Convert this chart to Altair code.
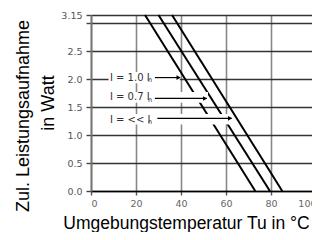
import altair as alt
import pandas as pd

# ---- data ----
curves = ["I = 1.0 In", "I = 0.7 In", "I = << In"]
temp_start = [24.0, 30.0, 36.0]     # °C at 3.15 W
temp_end = [73.0, 79.5, 85.0]       # °C at 0 W
power_top = 3.15
power_bottom = 0.0

label_main = ["I = 1.0 I", "I = 0.7 I", "I = << I"]
label_sub = ["n", "n", "n"]
label_x = [8.4, 8.4, 8.4]
label_y = [1.975, 1.625, 1.22]
sub_x = [25.3, 25.3, 25.3]
sub_y = [1.95, 1.60, 1.195]
arrow_x0 = [28.4, 28.4, 29.5]
arrow_x1 = [39.6, 51.4, 62.5]
arrow_y = [2.03, 1.656, 1.30]
head_x = [38.9, 50.7, 61.8]
box_x0 = [7.8, 7.8, 7.8]
box_x1 = [39.5, 52.0, 63.0]
box_y0 = [1.93, 1.58, 1.19]
box_y1 = [2.13, 1.77, 1.38]

x_ticks = [0, 20, 40, 60, 80, 100]
y_ticks = [0, 0.5, 1.0, 1.5, 2.0, 2.5, 3.0, 3.15]

chart_title = "6.3 x 32 mm (1-polig)"
x_title = "Umgebungstemperatur Tu in °C"
y_title_1 = "Zul. Leistungsaufnahme"
y_title_2 = "in Watt"

# ---- tables ----
rows = []
for c, t0, t1 in zip(curves, temp_start, temp_end):
    rows.append({"curve": c, "T": t0, "P": power_top})
    rows.append({"curve": c, "T": t1, "P": power_bottom})
lines_df = pd.DataFrame(rows)

ann_df = pd.DataFrame({
    "curve": curves, "main": label_main, "sub": label_sub,
    "lx": label_x, "ly": label_y, "sx": sub_x, "sy": sub_y,
    "ax0": arrow_x0, "ax1": arrow_x1, "ay": arrow_y, "hx": head_x,
    "bx0": box_x0, "bx1": box_x1, "by0": box_y0, "by1": box_y1,
})

xs = alt.Scale(domain=[0, 100], nice=False, zero=False)
ys = alt.Scale(domain=[0, 3.15], nice=False, zero=False)

x_axis = alt.Axis(values=x_ticks, title="", grid=True, gridColor="#888", gridWidth=1.6,
                  domainColor="#000", domainWidth=1.6, tickColor="#555", tickSize=4,
                  tickWidth=1.4, labelFont="DejaVu Sans", labelFontSize=9.5,
                  labelColor="#666", labelPadding=3, labelOverlap=False)
y_axis = alt.Axis(values=y_ticks, title="", grid=True, gridColor="#333", gridWidth=1.4,
                  domainColor="#777", domainWidth=1.8, tickColor="#444", tickSize=5,
                  tickWidth=1.4, labelFont="DejaVu Sans", labelFontSize=9.5,
                  labelColor="#555", labelPadding=4, labelOverlap=False,
                  labelExpr="datum.value == 3 ? '' : (datum.value == 3.15 ? '3.15' : format(datum.value, '.1f'))")


def X(field):
    return alt.X(field, scale=xs, axis=x_axis)


def Y(field):
    return alt.Y(field, scale=ys, axis=y_axis)


lines = alt.Chart(lines_df).mark_line(color="black", strokeWidth=2).encode(
    x=X("T:Q"), y=Y("P:Q"), detail="curve:N",
)

boxes = alt.Chart(ann_df).mark_rect(color="white").encode(
    x=X("bx0:Q"), x2="bx1:Q", y=Y("by0:Q"), y2="by1:Q",
)

main_text = alt.Chart(ann_df).mark_text(
    align="left", baseline="alphabetic", font="DejaVu Sans", fontSize=10, color="#333"
).encode(x=X("lx:Q"), y=Y("ly:Q"), text="main:N")

sub_text = alt.Chart(ann_df).mark_text(
    align="left", baseline="alphabetic", font="DejaVu Sans", fontSize=6.5, color="#333"
).encode(x=X("sx:Q"), y=Y("sy:Q"), text="sub:N")

arrows = alt.Chart(ann_df).mark_rule(color="black", strokeWidth=1.2).encode(
    x=X("ax0:Q"), x2="ax1:Q", y=Y("ay:Q"),
)

heads = alt.Chart(ann_df).mark_point(
    shape="triangle-right", filled=True, color="black", size=22, opacity=1
).encode(x=X("hx:Q"), y=Y("ay:Q"))

txt_df = pd.DataFrame({"t": [chart_title]})
title_mark = alt.Chart(txt_df).mark_text(
    align="left", baseline="alphabetic", font="Liberation Sans", fontSize=17,
    fontWeight="bold", color="black"
).encode(x=alt.value(-98), y=alt.value(-11), text="t:N")

xt_df = pd.DataFrame({"t": [x_title]})
x_title_mark = alt.Chart(xt_df).mark_text(
    align="center", baseline="alphabetic", font="Liberation Sans", fontSize=17.5, color="black"
).encode(x=alt.value(95.5), y=alt.value(214), text="t:N")

y1_df = pd.DataFrame({"t": [y_title_1]})
y_title_mark1 = alt.Chart(y1_df).mark_text(
    align="center", baseline="middle", font="Liberation Sans", fontSize=18, angle=270, color="black"
).encode(x=alt.value(-67), y=alt.value(101), text="t:N")

y2_df = pd.DataFrame({"t": [y_title_2]})
y_title_mark2 = alt.Chart(y2_df).mark_text(
    align="center", baseline="middle", font="Liberation Sans", fontSize=18, angle=270, color="black"
).encode(x=alt.value(-42), y=alt.value(88), text="t:N")

chart = alt.layer(
    lines, boxes, main_text, sub_text, arrows, heads,
    title_mark, x_title_mark, y_title_mark1, y_title_mark2,
).properties(
    width=225, height=176,
    autosize=alt.AutoSizeParams(type="none"),
    padding={"left": 83, "top": 7, "right": -4, "bottom": 41},
    background="white",
).configure_view(strokeWidth=0)

chart.save("out.html", embed_options={"renderer": "svg", "actions": False})
